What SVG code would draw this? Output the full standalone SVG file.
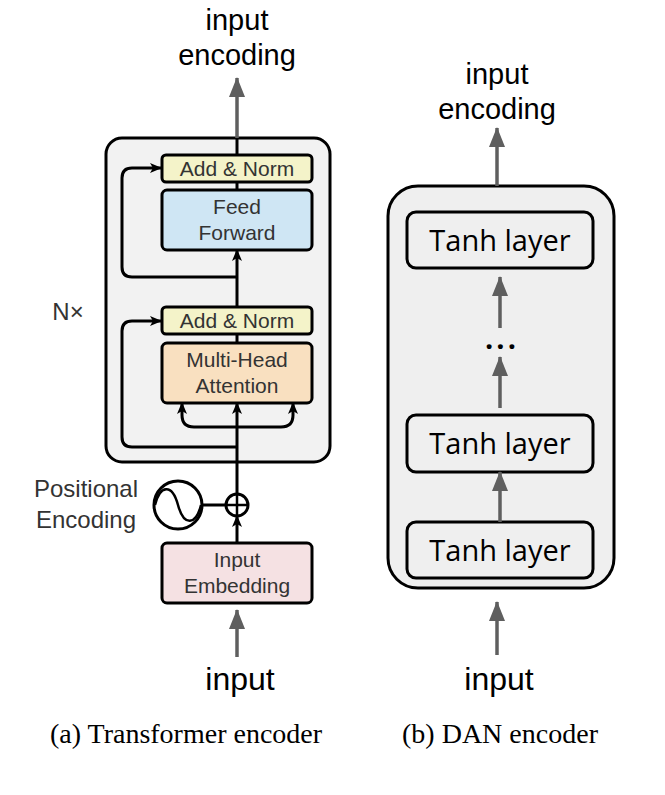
<svg xmlns="http://www.w3.org/2000/svg" width="665" height="795" viewBox="0 0 665 795">
<defs>
<marker id="ah" markerUnits="userSpaceOnUse" markerWidth="12" markerHeight="12" viewBox="0 0 12 12" refX="11" refY="6" orient="auto"><path d="M0,1 L12,6 L0,11 L3,6 z" fill="#000"/></marker>
<marker id="gh" markerUnits="userSpaceOnUse" markerWidth="20" markerHeight="16" viewBox="0 0 20 16" refX="19" refY="8" orient="auto"><path d="M0,0 L20,8 L0,16 z" fill="#5f5f5f"/></marker>
<style>
.t{font-family:"Liberation Sans",Arial,sans-serif;fill:#333;text-anchor:middle}
.lbl{font-family:"Liberation Sans",Arial,sans-serif;fill:#000;text-anchor:middle}
.cap{font-family:"Liberation Serif","Times New Roman",serif;fill:#000;text-anchor:middle;font-size:28px}
.th{font-family:"Open Sans","Noto Sans",sans-serif;fill:#000;text-anchor:middle;font-size:29px}
.blk{fill:none;stroke:#000;stroke-width:3}
.gry{fill:none;stroke:#5f5f5f;stroke-width:3.5}
.bx{stroke:#000;stroke-width:3}
</style>
</defs>
<rect width="665" height="795" fill="#fff"/>

<!-- Transformer encoder -->
<g id="transformer-block"><rect x="106" y="138" width="224" height="324" rx="16" fill="#f2f2f2" stroke="#000" stroke-width="3"/></g>
<g id="nx"><text x="68" y="320" class="t" font-size="24">N×</text></g>
<g id="add-norm-2"><rect class="bx" x="162" y="155" width="150" height="27" rx="4" fill="#f4f3c9"/><text x="237" y="176" class="t" font-size="21">Add &amp; Norm</text></g>
<g id="feed-forward"><rect class="bx" x="162" y="190" width="150" height="60" rx="5" fill="#cfe6f4"/><text x="237" y="214" class="t" font-size="21">Feed</text><text x="237" y="240" class="t" font-size="21">Forward</text></g>
<g id="add-norm-1"><rect class="bx" x="162" y="307" width="150" height="27" rx="4" fill="#f4f3c9"/><text x="237" y="328" class="t" font-size="21">Add &amp; Norm</text></g>
<g id="multi-head-attention"><rect class="bx" x="162" y="343" width="150" height="60" rx="5" fill="#f9e0c0"/><text x="237" y="367" class="t" font-size="21">Multi-Head</text><text x="237" y="393" class="t" font-size="21">Attention</text></g>
<g id="input-embedding"><rect class="bx" x="162" y="543" width="150" height="60" rx="5" fill="#f5e1e3"/><text x="237" y="567" class="t" font-size="21">Input</text><text x="237" y="593" class="t" font-size="21">Embedding</text></g>
<g id="positional-encoding"><circle cx="178" cy="505" r="24" fill="#fff" stroke="#000" stroke-width="3"/><path d="M155,505 C160,485 172,483 178,505 C184,527 196,525 201,505" fill="none" stroke="#000" stroke-width="2.5"/><text x="86" y="497" class="t" font-size="24">Positional</text><text x="86" y="528" class="t" font-size="24">Encoding</text></g>
<g id="add-op"><circle cx="237" cy="505" r="11" fill="#fff" stroke="#000" stroke-width="3"/><path d="M226,505 H248 M237,494 V516" stroke="#000" stroke-width="2.5"/></g>
<g id="label-a-top"><text x="237" y="30" class="lbl" font-size="29">input</text><text x="237" y="65" class="lbl" font-size="29">encoding</text></g>
<g id="label-a-bottom"><text x="240" y="690" class="lbl" font-size="32">input</text></g>
<g id="caption-a"><text x="186" y="743" class="cap">(a) Transformer encoder</text></g>

<!-- DAN encoder -->
<g id="dan-block"><rect x="388" y="186" width="226" height="402" rx="30" fill="#efefef" stroke="#000" stroke-width="3"/></g>
<g id="tanh-3"><rect x="407" y="212" width="186" height="56" rx="9" fill="#efefef" stroke="#000" stroke-width="3"/><text x="500" y="251" class="th">Tanh layer</text></g>
<g id="tanh-2"><rect x="407" y="415" width="186" height="57" rx="9" fill="#efefef" stroke="#000" stroke-width="3"/><text x="500" y="454" class="th">Tanh layer</text></g>
<g id="tanh-1"><rect x="407" y="522" width="186" height="56" rx="9" fill="#efefef" stroke="#000" stroke-width="3"/><text x="500" y="561" class="th">Tanh layer</text></g>
<g id="dots"><text x="502" y="349" class="th" font-weight="bold" font-size="34" letter-spacing="3">...</text></g>
<g id="label-b-top"><text x="497" y="84" class="lbl" font-size="29">input</text><text x="497" y="119" class="lbl" font-size="29">encoding</text></g>
<g id="label-b-bottom"><text x="499" y="690" class="lbl" font-size="32">input</text></g>
<g id="caption-b"><text x="500" y="743" class="cap">(b) DAN encoder</text></g>

<g id="connectors">
<!-- transformer -->
<path class="gry" d="M237,138 V78" marker-end="url(#gh)"/>
<path class="blk" d="M237,155 V138"/>
<path class="blk" d="M237,182 V190"/>
<path class="blk" d="M237,307 V250" marker-end="url(#ah)"/>
<path class="blk" d="M237,277 H132 Q122,277 122,267 V178 Q122,168 132,168 H161" marker-end="url(#ah)"/>
<path class="blk" d="M237,334 V343"/>
<path class="blk" d="M237,494 V403" marker-end="url(#ah)"/>
<path class="blk" d="M237,447 H132 Q122,447 122,437 V331 Q122,321 132,321 H161" marker-end="url(#ah)"/>
<path class="blk" d="M237,427 H194 Q182,427 182,415 V403" marker-end="url(#ah)"/>
<path class="blk" d="M237,427 H281 Q293,427 293,415 V403" marker-end="url(#ah)"/>
<path class="blk" d="M202,505 H226"/>
<path class="blk" d="M237,543 V516" marker-end="url(#ah)"/>
<path class="gry" d="M237,657 V610" marker-end="url(#gh)"/>
<!-- DAN -->
<path class="gry" d="M497,186 V128" marker-end="url(#gh)"/>
<path class="gry" d="M500,328 V277" marker-end="url(#gh)"/>
<path class="gry" d="M500,408 V357" marker-end="url(#gh)"/>
<path class="gry" d="M500,522 V472" marker-end="url(#gh)"/>
<path class="gry" d="M497,655 V602" marker-end="url(#gh)"/>
</g>
</svg>
